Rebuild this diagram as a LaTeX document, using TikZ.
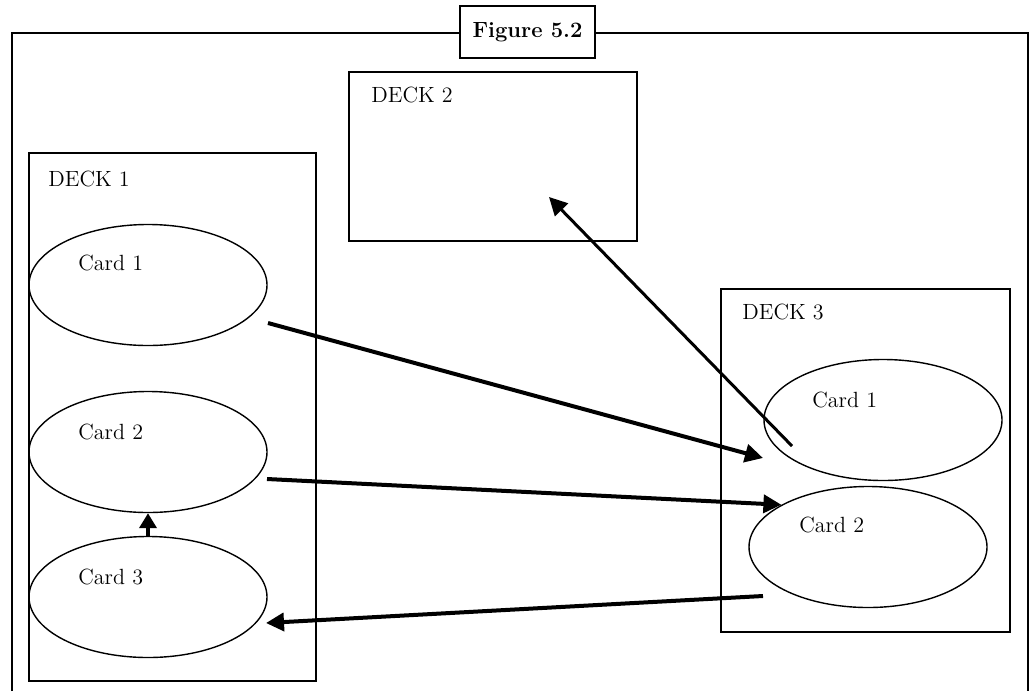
\documentclass[tikz,border=0pt]{standalone}
\usetikzlibrary{shapes.geometric,arrows.meta}

\tikzset{
	every node/.style={font=\fontsize{11}{13}\selectfont},
	deck/.style={draw, rectangle, line width=0.7pt, inner sep=0pt},
	card/.style={draw, ellipse, line width=0.7pt, minimum width=119pt, minimum height=60.5pt, inner sep=0pt},
	cardtxt/.style={anchor=west, inner sep=0pt},
	move/.style={line width=2pt, -{Triangle[length=9pt,width=9pt]}},
}

\begin{document}
\begin{tikzpicture}[x=0.5pt, y=-0.5pt]
	\useasboundingbox (0,0) rectangle (1032,691);

	% frame and title
	\draw [line width=1.4pt] (12,691) -- (12,33) -- (1028,33) -- (1028,691);
	\node [draw, fill=white, line width=1.2pt, minimum width=67.5pt, minimum height=26pt, font=\fontsize{11}{13}\selectfont\bfseries] (title) at (527.5,32) {Figure 5.2};

	% decks
	\node [deck, minimum width=143.5pt, minimum height=264pt] (deck1) at (172.5,417) {};
	\node [deck, minimum width=144pt, minimum height=84.5pt] (deck2) at (493,156.5) {};
	\node [deck, minimum width=144.5pt, minimum height=171.5pt] (deck3) at (865.5,460.5) {};

	\foreach \n/\x/\y in {1/48/179, 2/371/95, 3/742/312}
	\node [cardtxt] (deck\n-txt) at (\x,\y) {DECK \n};

	% cards of deck 1
	\foreach \n/\y in {1/285, 2/452, 3/597}
	\node [card] (a\n) at (148,\y) {};

	\foreach \n/\y in {1/263, 2/432, 3/577}
	\node [cardtxt] (a\n-txt) at (78,\y) {Card \n};

	% cards of deck 3
	\node [card] (c1) at (883,420) {};
	\node [card] (c2) at (868,547) {};
	\node [cardtxt] (c1-txt) at (812,400) {Card 1};
	\node [cardtxt] (c2-txt) at (799,525) {Card 2};

	% free ends of the moves
	\coordinate (a1-out) at (268,323);
	\coordinate (c1-in) at (763,458);
	\coordinate (a2-out) at (267,479);
	\coordinate (c2-out) at (763,596);
	\coordinate (a3-in) at (266,623);
	\coordinate (c1-out) at (792,446);
	\coordinate (deck2-in) at (549,197);

	\draw [move] (a1-out) -- (c1-in);
	\draw [move] (a2-out) -- (c2.154);
	\draw [move] (c2-out) -- (a3-in);
	\draw [move, line width=1.5pt] (c1-out) -- (deck2-in);
	\draw [line width=2pt, -{Triangle[length=7.5pt,width=8.5pt]}] (a3.north) -- (a2.south);
\end{tikzpicture}
\end{document}
